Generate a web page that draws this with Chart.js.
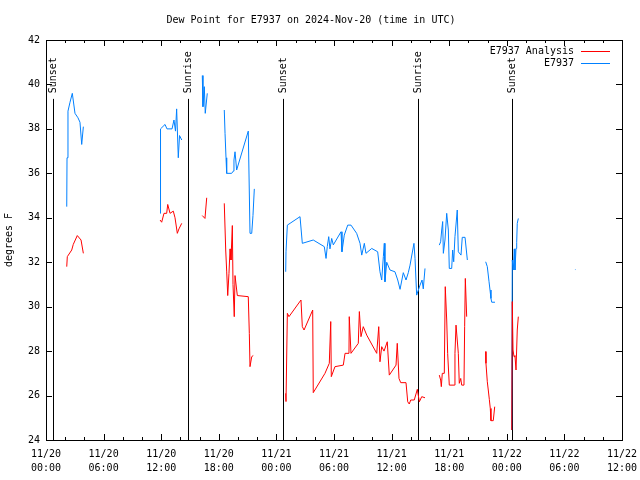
<!DOCTYPE html>
<html>
<head>
<meta charset="utf-8">
<script src="https://cdn.jsdelivr.net/npm/chart.js@4"></script>
<style>
  body { margin: 0; background: #fff; }
  #wrap { width: 640px; height: 480px; }
</style>
</head>
<body>
<div id="wrap"><canvas id="dewChart" width="640" height="480"></canvas></div>
<script>
// hours since 11/20 00:00 UTC, null = gap
const analysisHours = [
  2.16, 2.22, 2.68, 2.84, 3.26, 3.65, 3.89, null,
  11.88, 12.05, 12.29, 12.57, 12.68, 12.92, 13.26, 13.44, 13.68, 13.85, 14.14, null,
  16.28, 16.56, 16.74, null,
  18.57, 18.72, 18.82, 18.93, 19.06, 19.17, 19.27, 19.41, 19.48, 19.61, 19.69, 19.93, 21.07, 21.18, 21.25, 21.43, 21.59, null,
  24.97, 25.0, 25.14, 25.31, 26.56, 26.7, 26.88, 27.78, 27.84, 29.06, 29.51, 29.66, 29.72, 30.1, 30.97, 31.15, 31.56, 31.59, 31.77,
  32.53, 32.64, 32.81, 33.05, 33.41, 34.45, 34.66, 34.79, 34.97, 35.21, 35.55, 35.76, 36.46, 36.59, 36.77, 36.95, 37.5, 37.68,
  37.84, 37.99, 38.36, 38.68, 38.89, 39.14, 39.48, null,
  40.97, 41.11, 41.18, 41.28, 41.49, 41.59, 41.74, 41.84, 42.01, 42.53, 42.6, 42.71, 42.95, 43.05, 43.2, 43.3, 43.54, 43.61, 43.68, 43.82, null,
  45.8, 45.83, 45.97, 46.07, 46.18, 46.28, 46.35, 46.59, 46.74, null,
  48.51, 48.57, 48.65, 48.75, 48.85, 48.96, 49.09, 49.2
];
const analysisDew = [
  31.8, 32.25, 32.55, 32.8, 33.2, 33.0, 32.4, null,
  33.9, 33.8, 34.2, 34.2, 34.6, 34.2, 34.3, 34.0, 33.3, 33.5, 33.75, null,
  34.1, 33.97, 34.9, null,
  34.65, 32.55, 31.6, 30.5, 31.5, 32.6, 32.1, 33.65, 31.0, 29.55, 31.4, 30.5, 30.45, 28.8, 27.3, 27.75, 27.8, null,
  26.1, 25.73, 29.7, 29.55, 30.3, 29.1, 28.95, 29.85, 26.13, 27.0, 27.45, 29.33, 26.85, 27.3, 27.37, 27.9, 27.9, 29.55, 27.9,
  28.35, 29.78, 28.65, 29.1, 28.72, 27.9, 29.1, 27.52, 28.2, 28.0, 28.42, 26.92, 27.37, 28.35, 26.77, 26.58, 26.58, 25.72,
  25.62, 25.8, 25.8, 26.28, 25.72, 25.95, 25.9, null,
  26.92, 26.7, 26.4, 27.0, 27.0, 30.9, 29.4, 27.9, 26.47, 26.47, 27.9, 29.17, 27.9, 26.55, 26.77, 26.47, 26.47, 29.1, 31.27, 29.55, null,
  27.98, 27.45, 26.62, 26.25, 25.83, 25.42, 24.87, 24.87, 25.5, null,
  24.45, 30.23, 28.05, 27.75, 27.8, 27.15, 28.95, 29.55
];

const obsHours = [
  2.16, 2.19, 2.29, 2.5, 2.74, 3.02, 3.33, 3.54, 3.72, 3.89, null,
  11.88, 11.91, 11.95, 12.4, 12.6, 13.13, 13.33, 13.49, 13.61, 13.78, 13.91, 14.14, null,
  16.28, 16.35, 16.49, 16.59, 16.8, null,
  18.57, 18.65, 18.75, 18.82, 19.34, 19.51, 19.58, 19.69, 19.86, 21.07, 21.25, 21.43, 21.56, 21.7, null,
  24.97, 25.0, 25.14, 25.42, 26.46, 26.7, 27.84, 28.99, 29.17, 29.3, 29.45, 29.58, 29.76, 29.93, 30.73, 30.83, 31.07, 31.43,
  31.77, 32.36, 32.71, 32.89, 33.16, 33.33, 33.93, 34.55, 34.79, 34.97, 35.14, 35.24, 35.31, 35.49, 35.83, 36.35, 36.64,
  36.88, 37.22, 37.5, 37.74, 37.92, 38.33, 38.44, 38.61, 38.96, 39.17, 39.3, 39.48, null,
  40.97, 41.11, 41.22, 41.32, 41.39, 41.56, 41.74, 41.91, 42.01, 42.26, 42.36, 42.47, 42.6, 42.84, 42.95, 43.23, 43.36, 43.65, 43.89, null,
  45.8, 45.97, 46.15, 46.25, 46.35, 46.43, 46.77, null,
  48.51, 48.57, 48.68, 48.78, 48.85, 48.96, 49.03, 49.09, 49.2, null,
  55.1, 55.15
];
const obsDew = [
  34.5, 36.7, 38.8, 39.2, 39.6, 38.7, 38.5, 38.3, 37.3, 38.1, null,
  34.2, 36.1, 38.0, 38.2, 38.0, 38.0, 38.4, 37.9, 38.9, 36.7, 37.7, 37.5, null,
  40.4, 39.0, 39.9, 38.7, 39.6, null,
  38.85, 37.8, 36.7, 36.0, 36.0, 36.1, 36.6, 36.97, 36.15, 37.9, 33.3, 33.3, 34.1, 35.3, null,
  31.57, 32.47, 33.67, 33.75, 34.05, 32.85, 33.0, 32.7, 32.17, 32.7, 33.15, 32.6, 33.07, 32.78, 33.37, 32.47, 33.22, 33.67,
  33.67, 33.3, 32.85, 32.32, 32.85, 32.4, 32.62, 32.47, 31.57, 31.2, 32.25, 32.85, 31.12, 32.0, 31.65, 31.57, 31.2,
  30.78, 31.53, 31.2, 31.53, 31.87, 32.85, 32.17, 30.52, 30.97, 31.2, 30.8, 31.72, null,
  32.77, 32.92, 33.45, 33.83, 32.4, 33.0, 34.2, 33.45, 31.72, 31.72, 32.55, 32.02, 33.15, 34.35, 32.47, 32.32, 33.12, 33.12, 32.1, null,
  32.02, 31.8, 31.12, 30.75, 30.37, 30.2, 30.2, null,
  24.45, 32.1, 31.65, 32.6, 31.65, 32.62, 32.9, 33.75, 33.97, null,
  31.67, 31.67
];

const sunHours = [0.76, 14.83, 24.72, 38.78, 48.57];
const sunLabels = ['Sunset', 'Sunrise', 'Sunset', 'Sunrise', 'Sunset'];

const xTickLabels = [
  ['11/20', '00:00'], ['11/20', '06:00'], ['11/20', '12:00'], ['11/20', '18:00'],
  ['11/21', '00:00'], ['11/21', '06:00'], ['11/21', '12:00'], ['11/21', '18:00'],
  ['11/22', '00:00'], ['11/22', '06:00'], ['11/22', '12:00']
];

const FONT = "'DejaVu Sans Mono', monospace";
const RED = 'rgb(255, 0, 0)';
const BLUE = 'rgb(0, 128, 255)';
const seriesColors = [RED, BLUE];

function toPoints(hours, vals) {
  let last = 0;
  return hours.map((h, i) => {
    if (h === null) return { x: last, y: null };
    last = h;
    return { x: h, y: vals[i] };
  });
}

// sunrise/sunset lines under the data; frame, inward ticks and legend on top
const gnuplotDeco = {
  id: 'gnuplotDeco',
  beforeDatasetsDraw(chart) {
    const ctx = chart.ctx;
    const a = chart.chartArea;
    const xs = chart.scales.x, ys = chart.scales.y;
    ctx.save();
    ctx.strokeStyle = '#000';
    ctx.lineWidth = 1;
    ctx.font = '10px ' + FONT;
    ctx.fillStyle = '#000';
    sunHours.forEach((h, i) => {
      const px = Math.round(xs.getPixelForValue(h)) + 0.5;
      ctx.beginPath();
      ctx.moveTo(px, ys.getPixelForValue(39.35));
      ctx.lineTo(px, a.bottom);
      ctx.stroke();
      ctx.save();
      ctx.translate(px, ys.getPixelForValue(39.6));
      ctx.rotate(-Math.PI / 2);
      ctx.textAlign = 'left';
      ctx.textBaseline = 'middle';
      ctx.fillText(sunLabels[i], 0, 0);
      ctx.restore();
    });
    ctx.restore();
  },
  afterDatasetsDraw(chart) {
    const ctx = chart.ctx;
    const a = chart.chartArea;
    const xs = chart.scales.x, ys = chart.scales.y;
    ctx.save();
    ctx.strokeStyle = '#000';
    ctx.lineWidth = 1;

    // border
    ctx.strokeRect(Math.round(a.left) + 0.5, Math.round(a.top) + 0.5,
      Math.round(a.right - a.left), Math.round(a.bottom - a.top));

    // ticks
    ctx.beginPath();
    for (let h = 0; h <= 60; h += 2) {
      const px = Math.round(xs.getPixelForValue(h)) + 0.5;
      const len = h % 6 === 0 ? 6 : 3;
      ctx.moveTo(px, a.bottom); ctx.lineTo(px, a.bottom - len);
      ctx.moveTo(px, a.top); ctx.lineTo(px, a.top + len);
    }
    for (let v = 24; v <= 42; v += 2) {
      const py = Math.round(ys.getPixelForValue(v)) + 0.5;
      ctx.moveTo(a.left, py); ctx.lineTo(a.left + 6, py);
      ctx.moveTo(a.right, py); ctx.lineTo(a.right - 6, py);
    }
    ctx.stroke();

    // legend
    ctx.font = '10px ' + FONT;
    ctx.textAlign = 'right';
    ctx.textBaseline = 'middle';
    chart.data.datasets.forEach((ds, i) => {
      const y = 51 + i * 12;
      ctx.fillStyle = '#000';
      ctx.fillText(ds.label, 574, y);
      ctx.fillStyle = seriesColors[i];
      ctx.fillRect(581, y, 29, 1);
    });
    ctx.restore();
  }
};

new Chart(document.getElementById('dewChart'), {
  type: 'line',
  data: {
    datasets: [
      {
        label: 'E7937 Analysis',
        data: toPoints(analysisHours, analysisDew),
        borderColor: RED,
        backgroundColor: RED,
        borderWidth: 1,
        pointRadius: 0,
        spanGaps: false,
        tension: 0
      },
      {
        label: 'E7937',
        data: toPoints(obsHours, obsDew),
        borderColor: BLUE,
        backgroundColor: BLUE,
        borderWidth: 1,
        pointRadius: 0,
        spanGaps: false,
        tension: 0
      }
    ]
  },
  options: {
    responsive: false,
    animation: false,
    parsing: false,
    layout: { padding: { left: 0, right: 18, top: 0, bottom: 0 } },
    plugins: {
      legend: { display: false },
      tooltip: { enabled: false },
      title: {
        display: true,
        text: 'Dew Point for E7937 on 2024-Nov-20 (time in UTC)',
        color: '#000',
        font: { family: FONT, size: 10, weight: 'normal', lineHeight: 1.2 },
        padding: { top: 14, bottom: 14 }
      }
    },
    scales: {
      x: {
        type: 'linear',
        min: 0,
        max: 60,
        afterFit(scale) {
          scale.height = 40;
          scale.paddingLeft = 0;
          scale.paddingRight = 0;
        },
        grid: { display: false, drawTicks: false },
        border: { display: false },
        ticks: {
          stepSize: 6,
          autoSkip: false,
          maxRotation: 0,
          padding: 7,
          color: '#000',
          font: { family: FONT, size: 10, lineHeight: 1.4 },
          callback: (v) => xTickLabels[Math.round(v / 6)]
        }
      },
      y: {
        min: 24,
        max: 42,
        afterFit(scale) { scale.width = 46; },
        grid: { display: false, drawTicks: false },
        border: { display: false },
        ticks: {
          stepSize: 2,
          padding: 6,
          color: '#000',
          font: { family: FONT, size: 10 }
        },
        title: {
          display: true,
          text: 'degrees F',
          color: '#000',
          font: { family: FONT, size: 10, lineHeight: 1.2 },
          padding: { top: 3, bottom: 0 }
        }
      }
    }
  },
  plugins: [gnuplotDeco]
});
</script>
</body>
</html>
